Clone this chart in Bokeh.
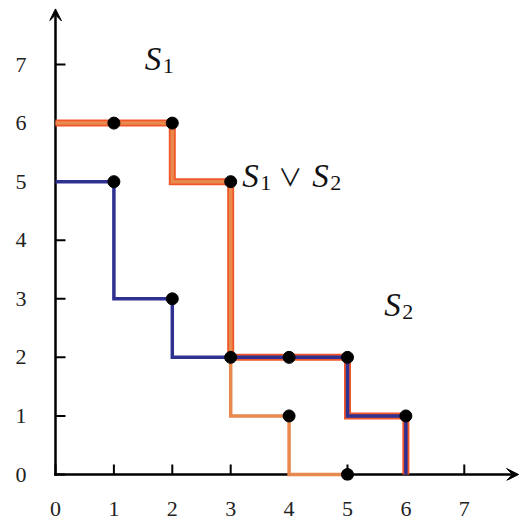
from bokeh.plotting import figure
from bokeh.models import Range1d, LinearAxis, FixedTicker, Arrow, VeeHead
from bokeh.core.properties import value
from bokeh.embed import file_html
from bokeh.resources import INLINE

# ---- data ----
ticks = [0, 1, 2, 3, 4, 5, 6, 7]
tick_labels = ["0", "1", "2", "3", "4", "5", "6", "7"]

s1_x = [0, 2, 3, 4, 5]
s1_y = [6, 5, 1, 0, 0]
s2_x = [0, 1, 2, 5, 6]
s2_y = [5, 3, 2, 1, 0]
union_x = [0, 2, 3, 5, 6]
union_y = [6, 5, 2, 1, 0]

dots_x = [1, 2, 3, 1, 2, 3, 4, 5, 4, 6, 5]
dots_y = [6, 6, 5, 5, 3, 2, 2, 2, 1, 1, 0]

# axis extents (arrow tips)
axis_x_end = 7.93
axis_y_end = 7.95
tick_len = 0.171

SERIF = "Liberation Serif"

p = figure(frame_width=473, frame_height=476, output_backend="svg", toolbar_location=None,
           x_range=Range1d(-0.1027, 7.997), y_range=Range1d(-0.1024, 8.025),
           x_axis_location=None, y_axis_location=None,
           min_border_left=49, min_border_right=0, min_border_top=4, min_border_bottom=40)
p.outline_line_color = None
p.xgrid.visible = False
p.ygrid.visible = False
p.background_fill_color = "white"

label_map = {t: l for t, l in zip(ticks, tick_labels)}

xa = LinearAxis(ticker=FixedTicker(ticks=ticks), major_label_overrides=label_map)
ya = LinearAxis(ticker=FixedTicker(ticks=ticks), major_label_overrides=label_map)
for ax in (xa, ya):
    ax.axis_line_color = None
    ax.major_tick_line_color = None
    ax.major_tick_in = 0
    ax.major_tick_out = 0
    ax.minor_tick_line_color = None
    ax.major_label_text_font = SERIF
    ax.major_label_text_font_size = "22px"
    ax.major_label_text_color = "#222222"
xa.major_label_standoff = 21
ya.major_label_standoff = 23
p.add_layout(xa, "below")
p.add_layout(ya, "left")

# axis lines with arrow heads (beneath the data)
p.add_layout(Arrow(x_start=-0.02, y_start=0, x_end=axis_x_end, y_end=0, line_width=2.5,
                   level="underlay",
                   end=VeeHead(size=12, fill_color="black", line_color="black", line_width=1)))
p.add_layout(Arrow(x_start=0, y_start=-0.02, x_end=0, y_end=axis_y_end, line_width=2.5,
                   level="underlay",
                   end=VeeHead(size=12, fill_color="black", line_color="black", line_width=1)))

# tick marks (pointing inward from the axes)
p.segment(x0=ticks, y0=[0] * len(ticks), x1=ticks, y1=[tick_len] * len(ticks),
          line_color="black", line_width=2)
p.segment(x0=[0] * len(ticks), y0=ticks, x1=[tick_len] * len(ticks), y1=ticks,
          line_color="black", line_width=2)

# union (S1 v S2) - thick red-orange underlay
p.step(union_x, union_y, mode="after", line_color="#F0562A", line_width=7, line_join="miter")
# S1 light orange
p.step(s1_x, s1_y, mode="after", line_color="#E8894E", line_width=3.5, line_join="miter")
# S2 blue
p.step(s2_x, s2_y, mode="after", line_color="#2E3192", line_width=3.5, line_join="miter")

p.scatter(dots_x, dots_y, size=12, color="black")

# labels
def math_label(x, y, parts):
    # parts: (text, font, italic, size_px, dx, dy)
    for txt, font, italic, size, dx, dy in parts:
        p.text(x=[x], y=[y], text=[txt], x_offset=dx, y_offset=dy,
               text_font=value(font), text_font_size=f"{size}px",
               text_font_style="italic" if italic else "normal",
               text_color="#111111", text_baseline="alphabetic", text_align="left")

math_label(1.53, 7.1, [("S", SERIF, True, 33, 0, 0), ("1", SERIF, False, 22, 18, 7)])
math_label(3.2, 5.1, [("S", SERIF, True, 33, 0, 0), ("1", SERIF, False, 22, 18, 7),
                      ("\u2228", "Noto Sans CJK JP", False, 24, 36, 0),
                      ("S", SERIF, True, 33, 70, 0), ("2", SERIF, False, 22, 88, 7)])
math_label(5.63, 2.9, [("S", SERIF, True, 33, 0, 0), ("2", SERIF, False, 22, 18, 7)])

open("out.html", "w").write(file_html(p, INLINE))
